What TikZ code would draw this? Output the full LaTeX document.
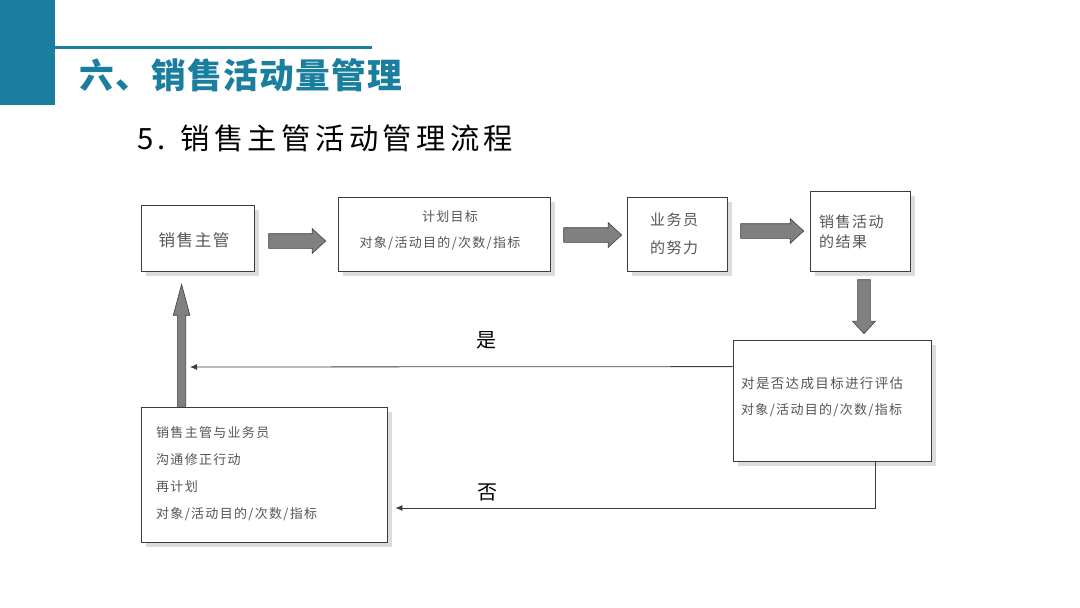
\documentclass[tikz,border=0pt]{standalone}
\usepackage{fontspec}
\setmainfont{Noto Sans CJK SC}
\newfontfamily\cjkbox[LetterSpace=10]{Noto Sans CJK SC}
\newfontfamily\cjksub[LetterSpace=15]{Noto Sans CJK SC}
\newfontfamily\cjktitle[LetterSpace=4]{Noto Sans CJK SC}
\usetikzlibrary{shapes.arrows,shadows,arrows.meta,calc}
\definecolor{tealA}{RGB}{26,126,158}
\definecolor{boxtext}{RGB}{85,85,85}
\definecolor{boxline}{RGB}{60,60,60}
\definecolor{arrowfill}{RGB}{128,128,128}
\definecolor{arrowline}{RGB}{64,64,64}
\definecolor{shadowc}{RGB}{220,220,220}
\begin{document}
\begin{tikzpicture}[x=1pt,y=-1pt,
  box/.style={draw=boxline, line width=0.8pt, fill=white, inner sep=0pt,
    drop shadow={shadow xshift=5pt, shadow yshift=-5pt, fill=shadowc, opacity=1}},
  btext/.style={text=boxtext, inner sep=0pt},
  barrow/.style={single arrow, draw=arrowline, fill=arrowfill, line width=0.6pt,
    inner sep=7pt, single arrow head extend=5pt,
    minimum width=24pt, single arrow tip angle=85, anchor=tail},
  thinarrow/.style={draw=boxline, line width=0.8pt, -{Latex[length=7pt,width=6pt]}},
  lbl/.style={font=\fontsize{20}{24}\selectfont, inner sep=0pt}
]
\useasboundingbox (0,0) rectangle (1080,608);
% header
\fill[tealA] (0,0) rectangle (55,105);
\draw[tealA, line width=3pt] (55,47) -- (372,47);
\node[anchor=west, inner sep=0pt, text=tealA, font=\cjktitle\bfseries\fontsize{34.7}{40}\selectfont] (title) at (79,75) {六、销售活动量管理};
\node[anchor=west, inner sep=0pt, font=\cjksub\fontsize{29.3}{34}\selectfont] (sub) at (137,138) {5. 销售主管活动管理流程};

% boxes
\node[box, minimum width=113pt, minimum height=66pt] (A) at (197.5,238) {};
\node[box, minimum width=212pt, minimum height=74pt] (B) at (444,234) {};
\node[box, minimum width=100pt, minimum height=74pt] (C) at (677,234) {};
\node[box, minimum width=100pt, minimum height=80pt] (D) at (860,231) {};
\node[box, minimum width=198pt, minimum height=121pt] (E) at (832,400.5) {};
\node[box, minimum width=246pt, minimum height=135pt] (F) at (264,474.5) {};

% box texts
\node[btext, font=\cjkbox\fontsize{16.5}{20}\selectfont] (tA) at (194,240) {销售主管};
\node[btext, font=\cjkbox\fontsize{13}{16}\selectfont] (tB1) at (450,217) {计划目标};
\node[btext, font=\cjkbox\fontsize{13}{16}\selectfont] (tB2) at (440,243) {对象/活动目的/次数/指标};
\node[btext, font=\cjkbox\fontsize{15}{18}\selectfont] (tC1) at (674,220) {业务员};
\node[btext, font=\cjkbox\fontsize{15}{18}\selectfont] (tC2) at (674,248) {的努力};
\node[btext, anchor=west, font=\cjkbox\fontsize{15}{18}\selectfont] (tD1) at (819,222) {销售活动};
\node[btext, anchor=west, font=\cjkbox\fontsize{15}{18}\selectfont] (tD2) at (819,242) {的结果};
\node[btext, anchor=west, font=\cjkbox\fontsize{13.5}{16}\selectfont] (tE1) at (741,383) {对是否达成目标进行评估};
\node[btext, anchor=west, font=\cjkbox\fontsize{13}{16}\selectfont] (tE2) at (741,410) {对象/活动目的/次数/指标};
\node[btext, anchor=west, font=\cjkbox\fontsize{13}{16}\selectfont] (tF1) at (156,433) {销售主管与业务员};
\node[btext, anchor=west, font=\cjkbox\fontsize{13}{16}\selectfont] (tF2) at (156,460) {沟通修正行动};
\node[btext, anchor=west, font=\cjkbox\fontsize{13}{16}\selectfont] (tF3) at (156,487) {再计划};
\node[btext, anchor=west, font=\cjkbox\fontsize{13}{16}\selectfont] (tF4) at (156,514) {对象/活动目的/次数/指标};

% block arrows
\node[barrow, minimum height=57pt] (AB) at ($(A.east)+(14,3)$) {};
\node[barrow, minimum height=58pt] (BC) at ($(B.east)+(13,1)$) {};
\node[barrow, minimum height=63pt] (CD) at ($(C.east)+(13,-3)$) {};
\node[barrow, minimum height=54pt, inner sep=6pt, minimum width=23pt, shape border rotate=270] (DE) at ($(D.south)+(4,8)$) {};
\node[barrow, minimum height=122pt, inner sep=4pt, minimum width=16pt, single arrow head extend=4pt, single arrow tip angle=30, shape border rotate=90] (FA) at ($(F.north west)+(41,0)$) {};

% thin arrows
\coordinate (yesstart) at ($(E.north west)+(0,27)$);
\coordinate (yesend) at (190,367);
\draw[thinarrow] (yesstart) -- (yesend);
\node[lbl] (yes) at (486,340) {是};
\coordinate (nostart) at ($(E.south east)+(-56,0)$);
\coordinate (noend) at ($(F.east)+(8,33.5)$);
\draw[thinarrow] (nostart) |- (noend);
\node[lbl] (no) at (487,492) {否};
\end{tikzpicture}
\end{document}
